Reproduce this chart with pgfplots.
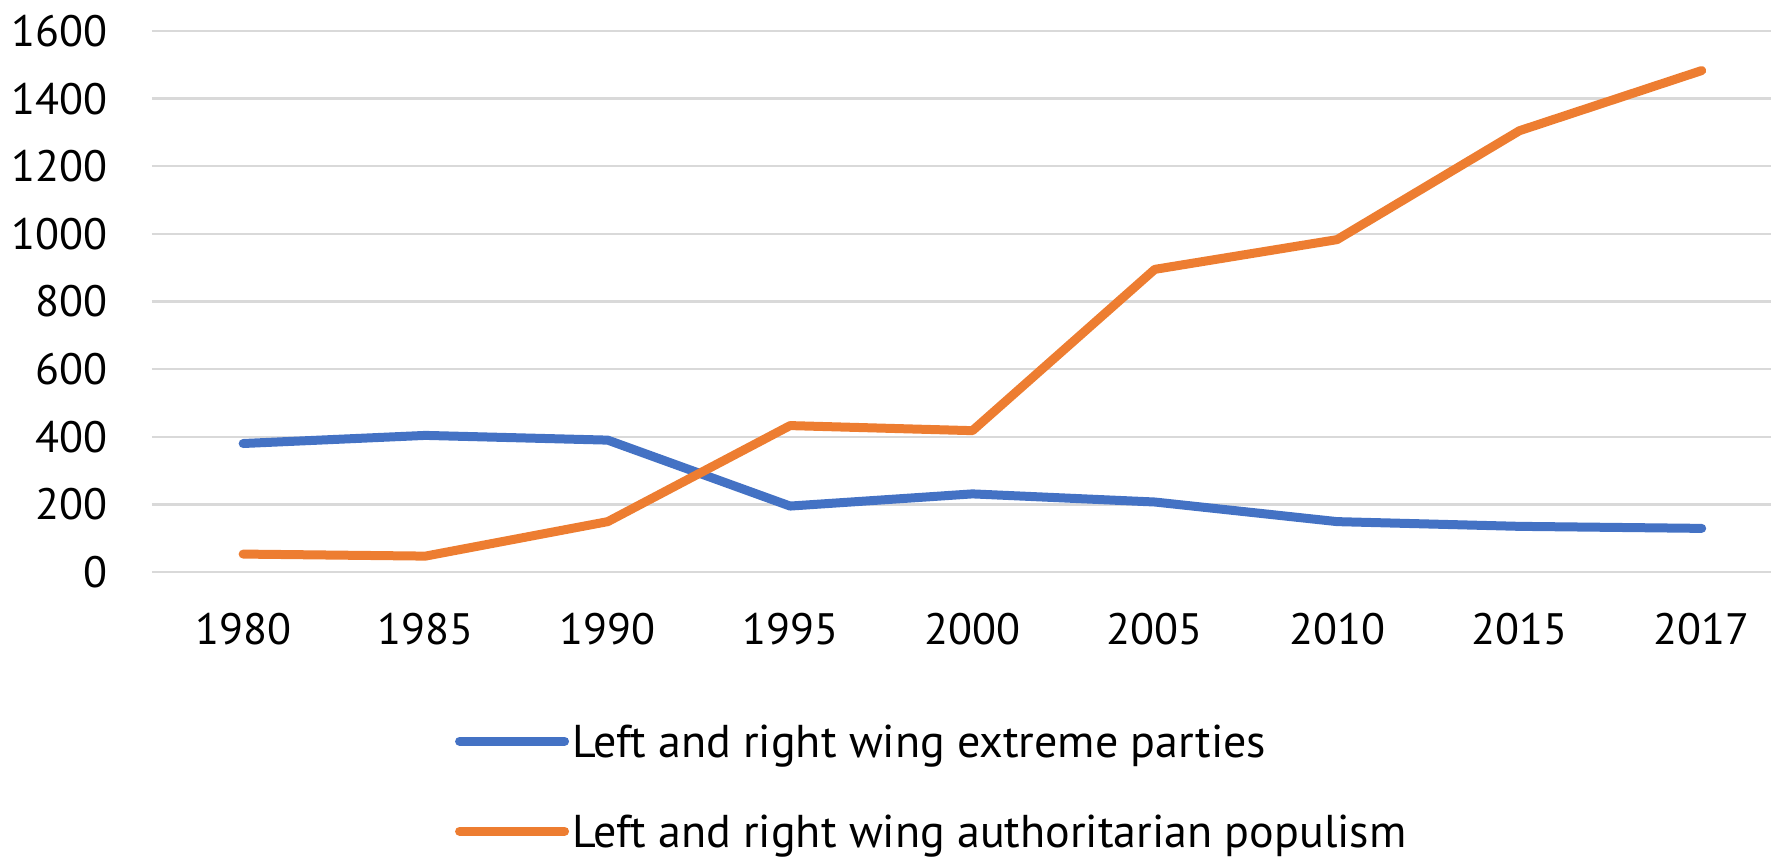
\documentclass[border=0pt]{standalone}
\usepackage{fontspec}
\setmainfont{PT Sans}
\usepackage{pgfplots}
\pgfplotsset{compat=1.18}
\definecolor{cblue}{HTML}{4472C4}
\definecolor{corange}{HTML}{ED7D31}
\definecolor{cgrid}{HTML}{D9D9D9}
\begin{document}
\begin{tikzpicture}
\useasboundingbox (-76bp,-144.5bp) rectangle (809.5bp,286bp);
\begin{axis}[
  at={(0,0)}, anchor=south west,
  scale only axis, width=809.5bp, height=270.5bp,
  xmin=-0.5, xmax=8.38, ymin=0, ymax=1600,
  axis line style={draw=none},
  major tick length=0pt,
  ytick={0,200,...,1600},
  xtick={0,...,8},
  xticklabels={1980,1985,1990,1995,2000,2005,2010,2015,2017},
  ymajorgrids, grid style={cgrid, line width=1.25bp},
  /pgf/number format/assume math mode=true,
  /pgf/number format/1000 sep={},
  tick label style={font=\fontsize{22bp}{26bp}\selectfont, text=black},
  yticklabel style={anchor=east, inner sep=0pt, xshift=-22bp},
  xticklabel style={anchor=north, inner sep=0pt, yshift=-20.5bp},
  legend style={draw=none, fill=none, inner sep=0pt, outer sep=0pt,
    at={(axis description cs:0.1872,-0.396)}, anchor=west,
    row sep=29bp, column sep=1.5bp,
    nodes={inner sep=0pt, anchor=west, text height=16bp, text depth=0pt,
      font=\fontsize{23bp}{27bp}\selectfont, text=black}},
  legend cell align=left,
  legend image code/.code={\draw[#1, line cap=round] (0bp,0bp) -- (52.5bp,0bp);},
  clip=false,
]
\addplot[cblue, line width=4.5bp, line cap=round, line join=round] coordinates {
  (0,380) (1,404) (2,390) (3,195) (4,231) (5,207) (6,149) (7,135) (8,129)};
\addlegendentry{Left and right wing extreme parties}
\addplot[corange, line width=4.5bp, line cap=round, line join=round] coordinates {
  (0,53) (1,47) (2,149) (3,433) (4,418) (5,895) (6,983) (7,1305) (8,1483)};
\addlegendentry{Left and right wing authoritarian populism}
\end{axis}
\end{tikzpicture}
\end{document}
